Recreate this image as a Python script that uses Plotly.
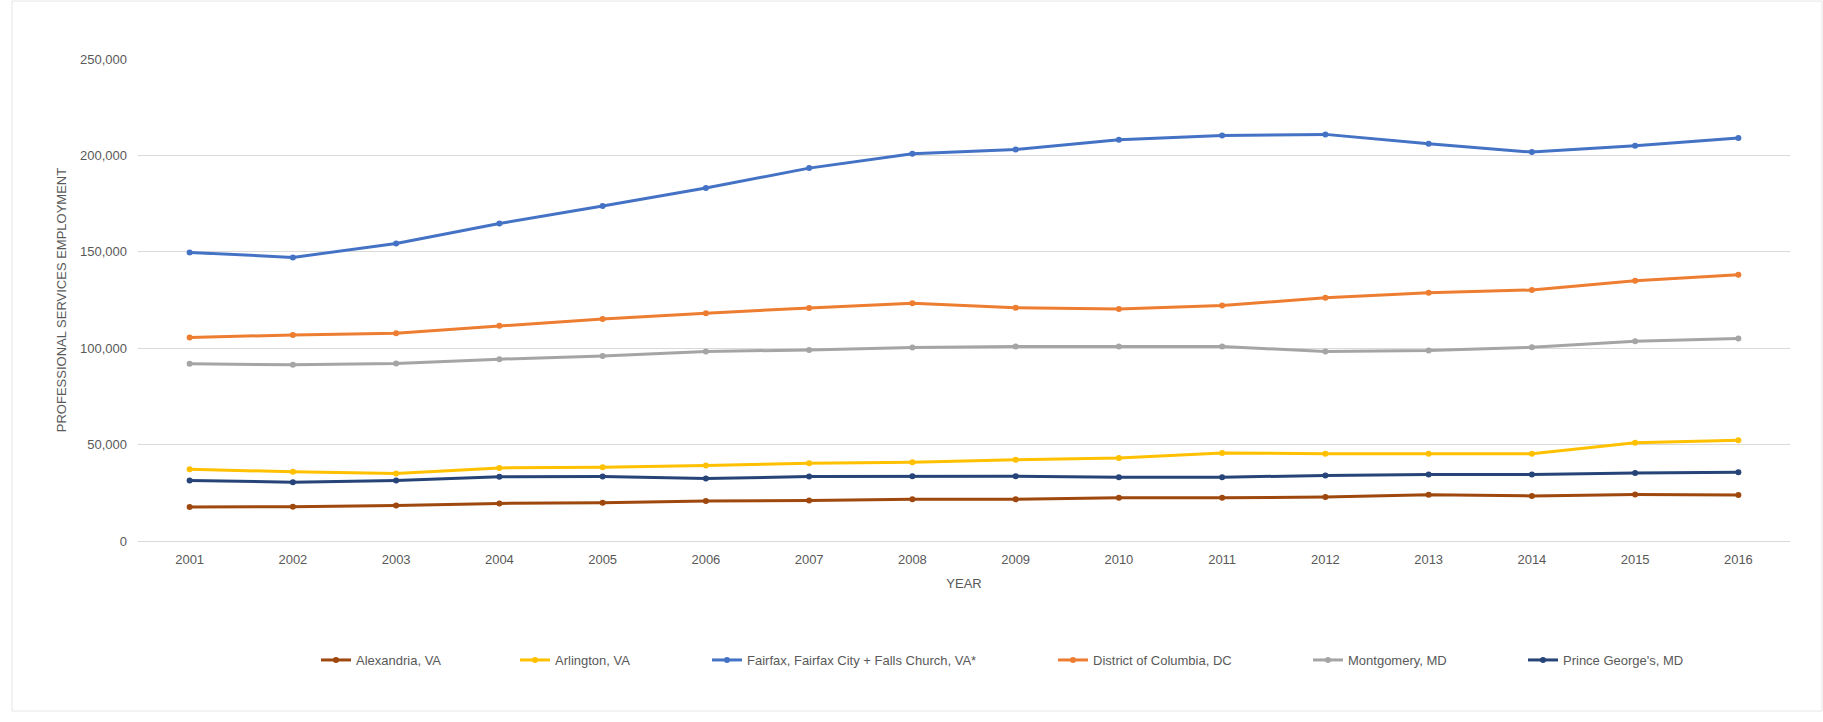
import plotly.graph_objects as go

years = [str(y) for y in range(2001, 2017)]

alexandria = [17600, 17800, 18400, 19500, 19800, 20700, 21000, 21700,
              21600, 22400, 22400, 22800, 24000, 23400, 24100, 23800]
arlington = [37200, 35900, 35000, 37900, 38300, 39100, 40300, 40900,
             42200, 43100, 45700, 45300, 45300, 45200, 51000, 52200]
fairfax = [149700, 147100, 154300, 164700, 173800, 183100, 193400, 200900,
           203100, 208100, 210300, 210900, 206000, 201700, 205000, 209000]
district = [105500, 106900, 107800, 111600, 115200, 118100, 120900, 123300,
            121000, 120300, 122100, 126200, 128800, 130200, 135000, 138100]
montgomery = [91900, 91400, 92100, 94300, 96000, 98300, 99100, 100300,
              100900, 100900, 100900, 98300, 98800, 100500, 103600, 105000]
prince_georges = [31400, 30500, 31400, 33300, 33400, 32400, 33400, 33600,
                  33600, 33100, 33100, 34000, 34500, 34500, 35300, 35700]

series = [
    ("Alexandria, VA", alexandria, "#9E480E"),
    ("Arlington, VA", arlington, "#FFC000"),
    ("Fairfax, Fairfax City + Falls Church, VA*", fairfax, "#4472C4"),
    ("District of Columbia, DC", district, "#ED7D31"),
    ("Montgomery, MD", montgomery, "#A5A5A5"),
    ("Prince George's, MD", prince_georges, "#264478"),
]

W, H = 1823, 722
ML, MR, MT, MB = 138, 33, 59, 181
PW = W - ML - MR

def px_to_paper_x(px):
    return (px - ML) / PW

# left edge of each legend entry's symbol, in page pixels
legend_left = [321, 520, 712, 1058, 1313, 1528]

FONT = "Liberation Sans, Arial, sans-serif"
GREY = "#595959"

fig = go.Figure()
layout_legends = {}
for i, ((name, vals, color), lx) in enumerate(zip(series, legend_left)):
    key = "legend" if i == 0 else f"legend{i + 1}"
    fig.add_trace(go.Scatter(
        x=years, y=vals, name=name, mode="lines+markers",
        line=dict(color=color, width=3),
        marker=dict(color=color, size=6),
        legend=key,
    ))
    layout_legends[key] = dict(
        x=px_to_paper_x(lx - 5), xanchor="left",
        y=-(660 - (H - MB)) / (H - MT - MB), yanchor="middle",
        orientation="h", itemwidth=30,
        font=dict(family=FONT, size=13, color=GREY),
        bgcolor="rgba(0,0,0,0)", borderwidth=0,
    )

fig.update_layout(
    width=W, height=H,
    margin=dict(l=ML, r=MR, t=MT, b=MB, pad=0),
    paper_bgcolor="white", plot_bgcolor="white",
    font=dict(family=FONT, size=13, color=GREY),
    showlegend=True,
    xaxis=dict(
        type="category", range=[-0.5, len(years) - 0.5],
        showgrid=False, zeroline=False, showline=False,
        ticks="", ticklabelstandoff=9,
        tickfont=dict(family=FONT, size=13, color=GREY),
        title=dict(text="YEAR", font=dict(family=FONT, size=13, color=GREY), standoff=12),
    ),
    yaxis=dict(
        range=[0, 250000], tickvals=[0, 50000, 100000, 150000, 200000, 250000],
        tickformat=",d", showgrid=True, gridcolor="#D9D9D9", gridwidth=1,
        zeroline=True, zerolinecolor="#D9D9D9", zerolinewidth=1,
        showline=False, ticks="", ticklabelstandoff=10,
        tickfont=dict(family=FONT, size=13, color=GREY),
        title=dict(text="PROFESSIONAL SERVICES EMPLOYMENT",
                   font=dict(family=FONT, size=13, color=GREY), standoff=10),
    ),
    **layout_legends,
)

# thin frame around the chart
fig.add_shape(
    type="rect", xref="paper", yref="paper",
    x0=px_to_paper_x(12), x1=px_to_paper_x(1822),
    y0=-(711 - (H - MB)) / (H - MT - MB), y1=(H - MB - 1) / (H - MT - MB),
    line=dict(color="#E6E6E6", width=1), layer="below",
)

fig.write_html("out.html")
